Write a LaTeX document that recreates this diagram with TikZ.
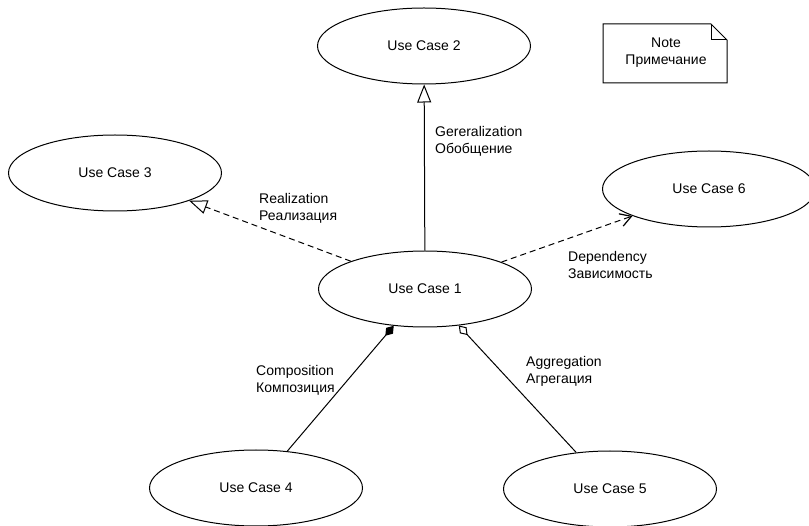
\documentclass[tikz,border=0pt]{standalone}
\usepackage{fontspec}
\setmainfont{Liberation Sans}
\usetikzlibrary{shapes.geometric,arrows.meta}
\begin{document}
\begin{tikzpicture}[x=1pt,y=-1pt,
  font=\fontsize{14}{17}\selectfont,
  usecase/.style={draw, ellipse, line width=1pt, minimum width=213pt, minimum height=76pt, inner sep=0pt},
  lbl/.style={anchor=west, align=left, inner sep=0pt},
  conn/.style={line width=1pt},
  dashedconn/.style={conn, dash pattern=on 6pt off 4pt},
  gentip/.style={-{Triangle[open, length=18pt, width=14pt, line width=1pt]}},
  deptip/.style={-{Straight Barb[length=11pt, width=13pt, line width=1.2pt]}},
  comptip/.style={{Diamond[length=13pt, width=9pt]}-},
  aggtip/.style={{Diamond[open, length=13pt, width=9pt, line width=1pt]}-}]
  \useasboundingbox (0,0) rectangle (809,526);

  % use cases
  \node[usecase] (uc1) at (425,289) {Use Case 1};
  \node[usecase] (uc2) at (424,46) {Use Case 2};
  \node[usecase] (uc3) at (115,173) {Use Case 3};
  \node[usecase] (uc4) at (256,488) {Use Case 4};
  \node[usecase] (uc5) at (610,489) {Use Case 5};
  \node[usecase] (uc6) at (709,189) {Use Case 6};

  % note with folded corner
  \draw[line width=1pt] (603,24) -- (711,24) -- (727,40) -- (727,83) -- (603,83) -- cycle;
  \draw[line width=1pt] (711,24) -- (711,40) -- (727,40);
  \node[align=center, inner sep=0pt] (note) at (666,53) {Note\\Примечание};

  % relations
  \draw[conn, gentip] (uc1) -- (uc2);
  \draw[dashedconn, gentip] (uc1) -- (uc3);
  \draw[dashedconn, deptip] (uc1) -- (uc6);
  \draw[conn, comptip] (uc1) -- (uc4);
  \draw[conn, aggtip] (uc1) -- (uc5);

  % relation labels
  \node[lbl] (lgen) at (435,141.5) {Gereralization\\Обобщение};
  \node[lbl] (lreal) at (259,208.5) {Realization\\Реализация};
  \node[lbl] (ldep) at (568,265) {Dependency\\Зависимость};
  \node[lbl] (lcomp) at (256,380) {Composition\\Композиция};
  \node[lbl] (lagg) at (526,371) {Aggregation\\Агрегация};
\end{tikzpicture}
\end{document}
